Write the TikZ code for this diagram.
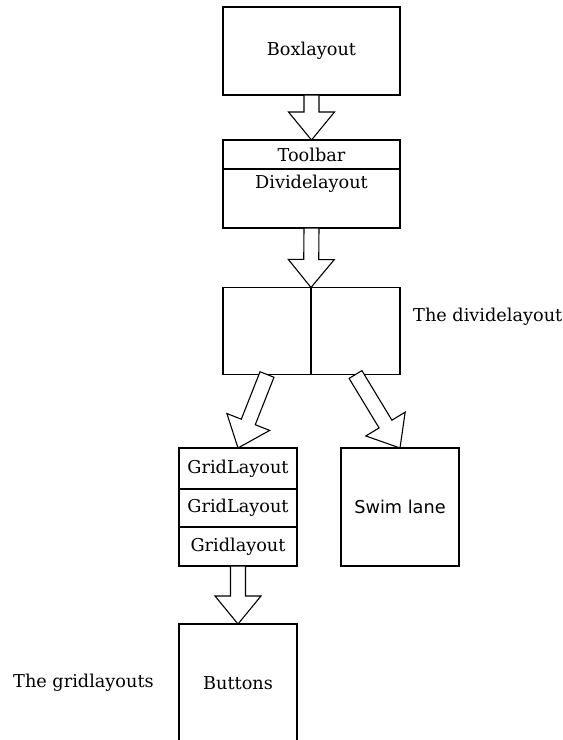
\documentclass[tikz,border=0pt]{standalone}
\usepackage{fontspec}
\setmainfont{DejaVu Serif}
\newfontfamily\swimfont{DejaVu Sans}
\usetikzlibrary{positioning, calc}

\tikzset{
  box/.style={draw, line width=1.3pt, inner sep=0pt, outer sep=0pt, font=\fontsize{17.7}{20}\selectfont},
  flow/.style={draw, line width=1.1pt, fill=white, line join=miter},
  note/.style={inner sep=0pt, font=\fontsize{17.7}{20}\selectfont},
}

% hollow block arrow from #1 to #2
\newcommand{\blockarrow}[2]{%
  \coordinate (ba-s) at (#1);
  \coordinate (ba-t) at (#2);
  \coordinate (ba-h) at ($(ba-t)!28pt!(ba-s)$);
  \draw[flow] ($(ba-s)!7.5pt!90:(ba-t)$) -- ($(ba-h)!7.5pt!90:(ba-t)$) -- ($(ba-h)!23pt!90:(ba-t)$)
    -- (ba-t) -- ($(ba-h)!23pt!-90:(ba-t)$) -- ($(ba-h)!7.5pt!-90:(ba-t)$) -- ($(ba-s)!7.5pt!-90:(ba-t)$) -- cycle;
}

\begin{document}
\begin{tikzpicture}[x=1pt, y=-1pt]
  \useasboundingbox (0,0) rectangle (563,740);
  \clip (0,0) rectangle (563,740);

  \node[box, minimum width=177pt, minimum height=88pt] (boxl) at (311.5,51) {Boxlayout};

  \node[box, minimum width=177pt, minimum height=29pt] (tbar) at (311.5,154.5) {Toolbar};
  \node[box, minimum width=177pt, minimum height=59pt, below=0pt of tbar] (dlay) {};
  \node[note, below=6pt of dlay.north] (dlaytxt) {Dividelayout};

  \node[box, minimum width=88pt, minimum height=87pt] (dvl) at (267,331) {};
  \node[box, minimum width=89pt, minimum height=87pt, right=0pt of dvl] (dvr) {};
  \node[note, anchor=west] (dvnote) at (413,317) {The dividelayout};

  \node[box, minimum width=118pt, minimum height=41pt] (grid1) at (238,468.5) {GridLayout};
  \node[box, minimum width=118pt, minimum height=38pt, below=0pt of grid1] (grid2) {GridLayout};
  \node[box, minimum width=118pt, minimum height=39pt, below=0pt of grid2] (grid3) {Gridlayout};

  \node[box, minimum width=118pt, minimum height=118pt, font=\swimfont\fontsize{17.7}{20}\selectfont] (swim) at (400,507) {Swim lane};

  \node[box, minimum width=118pt, minimum height=118pt] (btns) at (238,683) {Buttons};
  \node[note, anchor=west] (gridnote) at (13,683) {The gridlayouts};

  \blockarrow{boxl.south}{tbar.north}
  \blockarrow{dlay.south}{dvl.north east}
  \blockarrow{dvl.south}{grid1.north}
  \blockarrow{dvr.south}{swim.north}
  \blockarrow{grid3.south}{btns.north}
\end{tikzpicture}
\end{document}
